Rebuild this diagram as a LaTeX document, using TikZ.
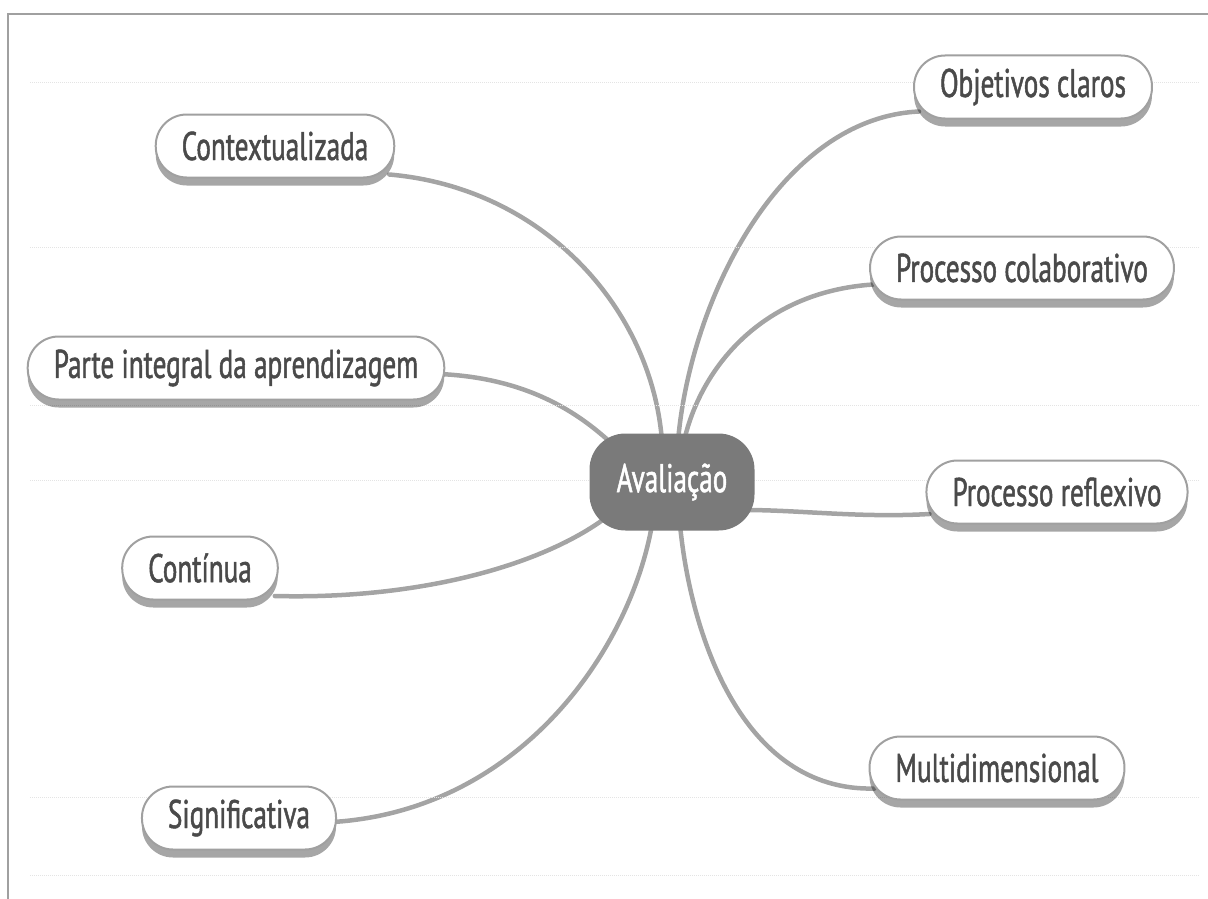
\documentclass[tikz,border=0pt]{standalone}
\usepackage{fontspec}
\setmainfont[FakeStretch=0.68,FakeBold=1.2]{PT Sans}
\usetikzlibrary{calc,shadows}
\pgfdeclarelayer{bg}
\pgfsetlayers{bg,main}

\definecolor{framegray}{HTML}{A0A0A0}
\definecolor{rulegray}{HTML}{E4E4E4}
\definecolor{linkgray}{HTML}{A4A4A4}
\definecolor{boxline}{HTML}{A0A0A0}
\definecolor{txtgray}{HTML}{4A4A4A}
\definecolor{hubgray}{HTML}{7A7A7A}

\tikzset{
  leaf/.style={rectangle, draw=boxline, line width=2pt, fill=white,
    rounded corners=31pt, minimum height=63pt, inner xsep=26pt,
    text=txtgray, font=\fontsize{40}{42}\selectfont,
    drop shadow={shadow xshift=0pt, shadow yshift=-8pt, fill=black, opacity=0.35}},
  hub/.style={rectangle, fill=hubgray, rounded corners=36pt,
    minimum height=97pt, minimum width=165pt,
    text=white, font=\fontsize{40}{42}\selectfont},
  link/.style={draw=linkgray, line width=4.5pt, line cap=round},
  guide/.style={draw=rulegray, line width=1pt, densely dotted}
}

\begin{document}
\begin{tikzpicture}[x=1pt,y=-1pt]
\useasboundingbox (0,0) rectangle (1208,899);

% faint ruled background
\foreach \yy in {83,247,405,480,797,875}
  \draw[guide] (30,\yy) -- (1200,\yy);

% frame
\draw[framegray, line width=2pt] (8,899) -- (8,14) -- (1208,14);

% central topic
\node[hub] (av) at (672,482) {Avaliação};

% left branches
\node[leaf] (ctx) at (275,146) {Contextualizada};
\node[leaf] (pia) at (236,368) {Parte integral da aprendizagem};
\node[leaf] (con) at (200,568) {Contínua};
\node[leaf] (sig) at (239,818) {Significativa};

% right branches
\node[leaf] (obj) at (1033,87) {Objetivos claros};
\node[leaf] (pco) at (1022,268) {Processo colaborativo};
\node[leaf] (pre) at (1057,492) {Processo reflexivo};
\node[leaf] (mul) at (997,768) {Multidimensional};

% connectors
\begin{pgfonlayer}{bg}
\draw[link] ($(ctx.south east)+(-6,-4)$) .. controls (545,188) and (652,310) .. ($(av.north)+(-10,8)$);
\draw[link] ($(obj.south west)+(6,-8)$) .. controls (780,118) and (690,300) .. ($(av.north)+(6,8)$);
\draw[link] ($(pco.south west)+(4,-16)$) .. controls (760,292) and (700,370) .. ($(av.north)+(12,8)$);
\draw[link] ($(pia.east)+(-6,6)$) .. controls (530,378) and (580,415) .. ($(av.north west)+(20,8)$);
\draw[link] ($(pre.west)+(4,22)$) .. controls (860,518) and (800,510) .. ($(av.east)+(-10,28)$);
\draw[link] ($(con.east)+(-4,28)$) .. controls (430,600) and (560,560) .. ($(av.south west)+(30,-24)$);
\draw[link] ($(sig.east)+(-4,4)$) .. controls (520,810) and (630,650) .. ($(av.south)+(-20,-6)$);
\draw[link] ($(mul.south west)+(6,-12)$) .. controls (740,792) and (690,630) .. ($(av.south)+(8,-6)$);
\end{pgfonlayer}
\end{tikzpicture}
\end{document}
